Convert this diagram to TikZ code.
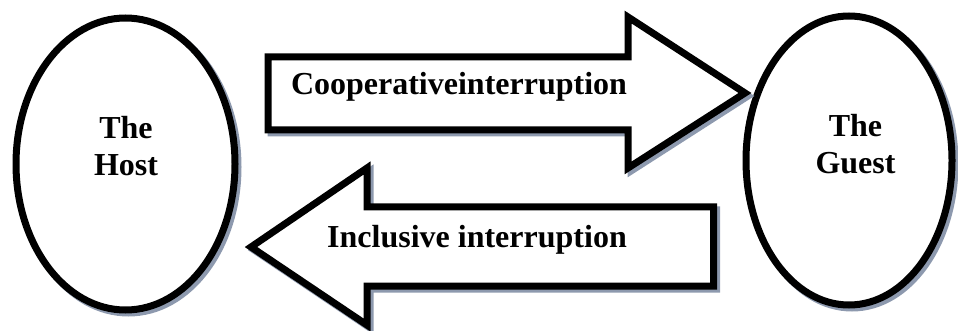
\documentclass[tikz,border=0pt]{standalone}
\usepackage{fontspec}
\setmainfont{Liberation Serif}
\usetikzlibrary{shapes.geometric,shadows}
\definecolor{shadowc}{RGB}{141,153,174}
\newcommand\arrowApath{(268,57) -- (628,57) -- (628,17) -- (745,93) -- (628,168) -- (628,130) -- (268,130) -- cycle}
\newcommand\arrowBpath{(713.5,207) -- (367,207) -- (367,168) -- (251,247) -- (367,325) -- (367,286) -- (713.5,286) -- cycle}
\begin{document}
\begin{tikzpicture}[x=1pt,y=-1pt,
  lbl/.style={font=\bfseries\fontsize{32}{36.5}\selectfont, inner sep=0pt, align=center},
  blob/.style={ellipse, draw=black, fill=white, line width=7pt, inner sep=0pt,
    general shadow={shadow xshift=3pt, shadow yshift=-3pt, draw=shadowc, fill=shadowc, line width=7pt}},
  blockarrow/.style={draw=black, fill=white, line width=7pt, miter limit=10},
  blockshadow/.style={draw=shadowc, fill=shadowc, line width=7pt, miter limit=10}]
\useasboundingbox (0,0) rectangle (958,331);

% ellipses
\node[blob, minimum width=219pt, minimum height=292pt] (host) at (125.5,164) {};
\node[blob, minimum width=206pt, minimum height=289pt] (guest) at (849,160.5) {};

% block arrows
\draw[blockshadow, shift={(3,3)}] \arrowApath;
\draw[blockarrow] \arrowApath;
\draw[blockshadow, shift={(3,3)}] \arrowBpath;
\draw[blockarrow] \arrowBpath;

% texts
\node[lbl] (hosttext) at (126,146) {The\\Host};
\node[lbl] (guesttext) at (855.5,144) {The\\Guest};
\node[lbl, anchor=base] (coop) at (459,95) {Cooperativeinterruption};
\node[lbl, anchor=base] (incl) at (477,247) {Inclusive interruption};
\end{tikzpicture}
\end{document}
